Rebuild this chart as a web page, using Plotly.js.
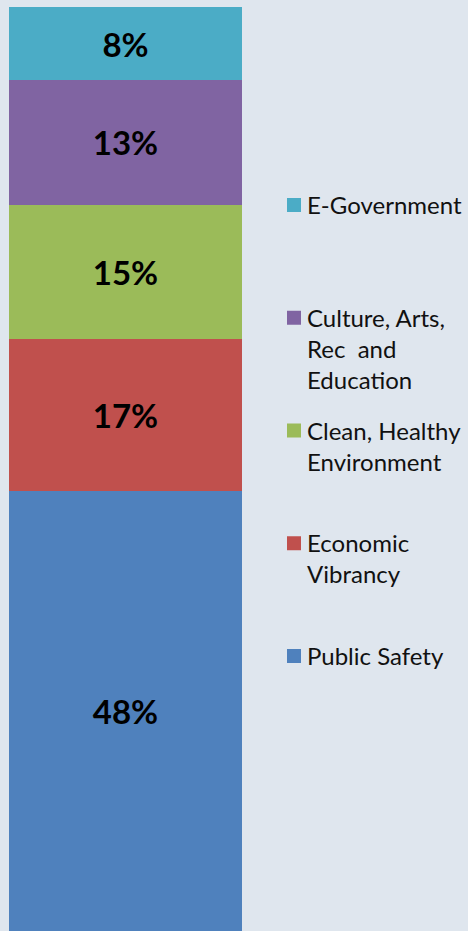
<!DOCTYPE html>
<html>
<head>
<meta charset="utf-8">
<script src="https://cdn.plot.ly/plotly-3.0.1.min.js"></script>
<style>
html,body{margin:0;padding:0;background:#dfe6ee;}
#chart{width:468px;height:931px;}
</style>
</head>
<body>
<div id="chart"></div>
<script>
// Data (bottom to top in the stack); heights estimated from the bar, labels as printed
const categories = ["Public Safety", "Economic Vibrancy", "Clean, Healthy Environment", "Culture, Arts, Rec and Education", "E-Government"];
const values = [47.6, 16.5, 14.5, 13.5, 7.9];
const valueLabels = ["48%", "17%", "15%", "13%", "8%"];
const legendLabels = ["Public Safety", "Economic<br>Vibrancy", "Clean, Healthy<br>Environment", "Culture, Arts,<br>Rec  and<br>Education", "E-Government"];
const colors = ["#4f81bd", "#c0504d", "#9bbb59", "#8064a2", "#4bacc6"];

const W = 468, H = 931;
const margin = {l: 9, r: 226, t: 7, b: 0};
const plotW = W - margin.l - margin.r, plotH = H - margin.t - margin.b;
const px2x = p => (p - margin.l) / plotW;
const px2y = p => (H - margin.b - p) / plotH;

const total = values.reduce((a, b) => a + b, 0);

const traces = categories.map((c, i) => ({
  type: 'bar',
  name: c,
  x: ['A'],
  y: [values[i]],
  text: [valueLabels[i]],
  textposition: 'inside',
  insidetextanchor: 'middle',
  textfont: {family: 'Lato, "Open Sans", sans-serif', size: 33, color: '#000000', weight: 'bold'},
  marker: {color: colors[i], line: {width: 0}},
  hoverinfo: 'none',
  showlegend: false
}));

// Legend built from categories (top entry first)
const legendTop = 205, legendStep = 112.75, lineH = 32;
const annotations = [];
const shapes = [];
const order = [4, 3, 2, 1, 0];
order.forEach((idx, k) => {
  const cy = legendTop + k * legendStep;
  shapes.push({
    type: 'rect', xref: 'paper', yref: 'paper',
    x0: px2x(287), x1: px2x(301), y0: px2y(cy + 7), y1: px2y(cy - 7),
    fillcolor: colors[idx], line: {width: 0}
  });
  annotations.push({
    xref: 'paper', yref: 'paper',
    x: px2x(305), y: px2y(cy - lineH / 2 - 1),
    xanchor: 'left', yanchor: 'top', align: 'left',
    showarrow: false,
    text: legendLabels[idx],
    font: {family: 'Lato, "Open Sans", sans-serif', size: 24, color: '#111111'}
  });
});

const layout = {
  width: W, height: H,
  margin: margin,
  barmode: 'stack',
  bargap: 0,
  paper_bgcolor: '#dfe6ee',
  plot_bgcolor: 'rgba(0,0,0,0)',
  xaxis: {visible: false, range: [-0.5, 0.5], fixedrange: true},
  yaxis: {visible: false, range: [0, total], fixedrange: true},
  uniformtext: {mode: false},
  showlegend: false,
  annotations: annotations,
  shapes: shapes
};

Plotly.newPlot('chart', traces, layout, {staticPlot: true, displayModeBar: false});
</script>
</body>
</html>
